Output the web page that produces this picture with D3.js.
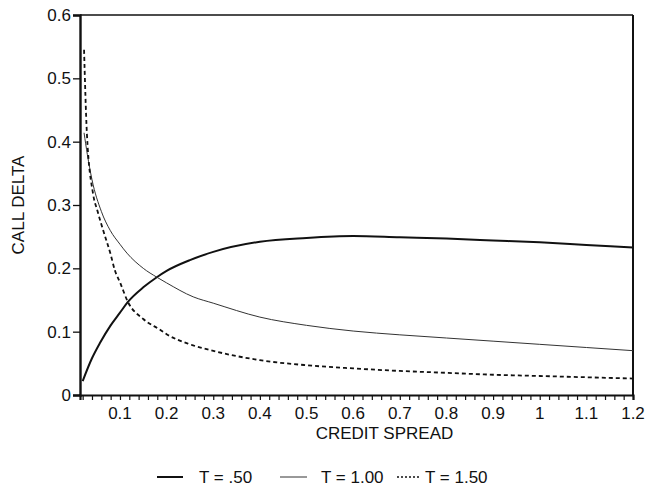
<!DOCTYPE html>
<html>
<head>
<meta charset="utf-8">
<script src="https://cdn.jsdelivr.net/npm/d3@7"></script>
<style>
  body { margin: 0; background: #fff; }
  svg text { font-family: "Liberation Sans", Arial, sans-serif; fill: #111; }
</style>
</head>
<body>
<div id="chart"></div>
<script>
// data
const xHalf   = [0.02, 0.04, 0.057, 0.08, 0.1, 0.117, 0.15, 0.179, 0.2, 0.25, 0.3, 0.4, 0.5, 0.6, 0.7, 0.8, 0.9, 1.0, 1.1, 1.2];
const yHalf   = [0.022, 0.058, 0.082, 0.11, 0.13, 0.147, 0.17, 0.186, 0.196, 0.213, 0.226, 0.242, 0.248, 0.251, 0.249, 0.247, 0.244, 0.241, 0.237, 0.233];

const xOne    = [0.023, 0.03, 0.04, 0.06, 0.079, 0.1, 0.115, 0.15, 0.179, 0.2, 0.257, 0.3, 0.4, 0.5, 0.6, 0.7, 0.8, 0.9, 1.0, 1.1, 1.2];
const yOne    = [0.414, 0.38, 0.34, 0.29, 0.26, 0.238, 0.224, 0.2, 0.186, 0.177, 0.155, 0.145, 0.123, 0.11, 0.101, 0.095, 0.09, 0.085, 0.08, 0.075, 0.07];

const xOneHalf = [0.023, 0.029, 0.042, 0.052, 0.064, 0.08, 0.089, 0.1, 0.117, 0.15, 0.186, 0.2, 0.25, 0.293, 0.4, 0.5, 0.6, 0.7, 0.8, 0.9, 1.0, 1.1, 1.2];
const yOneHalf = [0.545, 0.414, 0.319, 0.29, 0.26, 0.222, 0.197, 0.178, 0.147, 0.12, 0.103, 0.096, 0.08, 0.071, 0.055, 0.047, 0.042, 0.038, 0.035, 0.032, 0.030, 0.028, 0.026];

const yTicks = [0, 0.1, 0.2, 0.3, 0.4, 0.5, 0.6];
const xTickLabels = [0.1, 0.2, 0.3, 0.4, 0.5, 0.6, 0.7, 0.8, 0.9, 1, 1.1, 1.2];
const seriesNames = ["T = .50", "T = 1.00", "T = 1.50"];

const width = 645, height = 490;
const margin = { left: 80, right: 12, top: 15, bottom: 95 };
const fontSize = 17;

const svg = d3.select("#chart").append("svg")
    .attr("width", width)
    .attr("height", height);

const x = d3.scaleLinear()
    .domain([0.0143, 1.2])
    .range([margin.left, width - margin.right]);

const y = d3.scaleLinear()
    .domain([0, 0.6])
    .range([height - margin.bottom, margin.top]);

// frame: top and right borders
svg.append("line")
    .attr("x1", x.range()[0]).attr("x2", x.range()[1])
    .attr("y1", y(0.6)).attr("y2", y(0.6))
    .attr("stroke", "#111").attr("stroke-width", 1.6);
svg.append("line")
    .attr("x1", x.range()[1]).attr("x2", x.range()[1])
    .attr("y1", y(0.6)).attr("y2", y(0))
    .attr("stroke", "#111").attr("stroke-width", 2);

// x axis: minor ticks every 0.02, labels at 0.1 steps
const minor = d3.range(1, 61).map(i => +(i * 0.02).toFixed(2));
const xAxis = svg.append("g")
    .attr("transform", `translate(0,${y(0)})`)
    .call(d3.axisBottom(x).tickValues(minor).tickSize(5).tickFormat(""));
xAxis.select(".domain").attr("stroke-width", 2.2).attr("stroke", "#111");
xAxis.selectAll(".tick line").attr("stroke", "#111").attr("stroke-width", 1.2);

svg.append("g").selectAll("text")
    .data(xTickLabels)
    .join("text")
    .attr("x", d => x(d))
    .attr("y", y(0) + 24)
    .attr("text-anchor", "middle")
    .attr("font-size", fontSize)
    .text(d => String(d));

// y axis
const yAxis = svg.append("g")
    .attr("transform", `translate(${margin.left},0)`)
    .call(d3.axisLeft(y).tickValues(yTicks).tickSize(7).tickPadding(2)
        .tickFormat(d => d === 0 ? "0" : d3.format(".1f")(d)));
yAxis.select(".domain").attr("stroke-width", 2.4).attr("stroke", "#111");
yAxis.selectAll(".tick line").attr("stroke", "#111").attr("stroke-width", 1.3);
yAxis.selectAll(".tick text")
    .attr("font-size", fontSize)
    .attr("font-family", "Liberation Sans, Arial, sans-serif")
    .attr("fill", "#111");

// axis titles
svg.append("text")
    .attr("x", (x(0.1) + x(1.2)) / 2 + 8)
    .attr("y", y(0) + 44)
    .attr("text-anchor", "middle")
    .attr("font-size", fontSize)
    .text("CREDIT SPREAD");

svg.append("text")
    .attr("transform", `translate(24,${(y(0) + y(0.6)) / 2}) rotate(-90)`)
    .attr("text-anchor", "middle")
    .attr("font-size", fontSize)
    .text("CALL DELTA");

// curves
const line = d3.line()
    .x(d => x(d[0]))
    .y(d => y(d[1]))
    .curve(d3.curveMonotoneX);

const styles = [
    { width: 2, dash: null, color: "#111" },
    { width: 1, dash: null, color: "#333" },
    { width: 1.8, dash: "4,3", color: "#111" }
];

const series = [
    d3.zip(xHalf, yHalf),
    d3.zip(xOne, yOne),
    d3.zip(xOneHalf, yOneHalf)
];

svg.append("g").selectAll("path")
    .data(series)
    .join("path")
    .attr("d", line)
    .attr("fill", "none")
    .attr("stroke", (d, i) => styles[i].color)
    .attr("stroke-width", (d, i) => styles[i].width)
    .attr("stroke-dasharray", (d, i) => styles[i].dash);

// legend
const legendY = 477;
const legendItems = [
    { x1: 157, x2: 183, tx: 199, style: styles[0] },
    { x1: 280, x2: 307, tx: 321, style: styles[1] },
    { x1: 397, x2: 420, tx: 425, style: { width: 1.6, dash: "2,2", color: "#111" } }
];
const legend = svg.append("g");
legendItems.forEach((item, i) => {
    legend.append("line")
        .attr("x1", item.x1).attr("x2", item.x2)
        .attr("y1", legendY).attr("y2", legendY)
        .attr("stroke", item.style.color)
        .attr("stroke-width", item.style.width)
        .attr("stroke-dasharray", item.style.dash);
    legend.append("text")
        .attr("x", item.tx)
        .attr("y", legendY + 6)
        .attr("font-size", fontSize)
        .text(seriesNames[i]);
});
</script>
</body>
</html>
